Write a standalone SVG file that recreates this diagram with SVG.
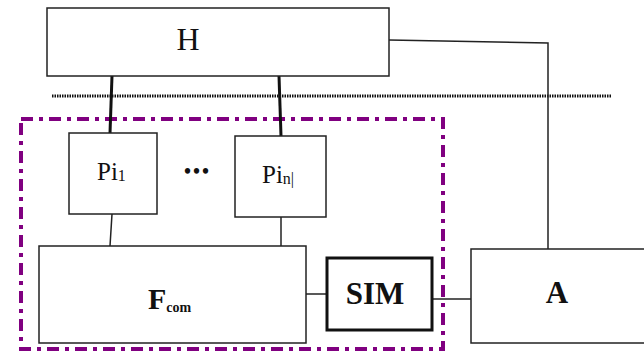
<svg xmlns="http://www.w3.org/2000/svg" width="644" height="352" viewBox="0 0 644 352">
<style>
.box{fill:#fff;stroke:#222;stroke-width:1.5}
.t{font-family:"Liberation Serif","Times New Roman",serif;fill:#111}
.c{stroke:#222;stroke-width:1.5;fill:none}
.thick{stroke:#111;stroke-width:3;fill:none}
</style>
<rect width="644" height="352" fill="#fff"/>
<g id="boundary">
<rect x="21" y="119" width="422" height="230" fill="none" stroke="#800080" stroke-width="4" stroke-dasharray="12 6 4 6"/>
</g>
<line x1="52" y1="96" x2="612" y2="96" stroke="#111" stroke-width="3" stroke-dasharray="1.5 1"/>
<g id="connectors">
<line class="thick" x1="112" y1="76" x2="110" y2="133"/>
<line class="thick" x1="279" y1="76" x2="281" y2="136"/>
<line class="c" x1="112" y1="214" x2="110" y2="246"/>
<line class="c" x1="281" y1="217" x2="281" y2="246"/>
<line class="c" x1="306" y1="294" x2="327" y2="294"/>
<line class="c" x1="426" y1="299" x2="471" y2="299"/>
<polyline class="c" points="389,40 548,43 548,249"/>
</g>
<g id="H">
<rect class="box" x="47" y="8" width="342" height="68"/>
<text class="t" x="188" y="50" font-size="32" text-anchor="middle">H</text>
</g>
<g id="Pi1">
<rect class="box" x="69" y="133" width="88" height="81"/>
<text class="t" x="97" y="180" font-size="25">Pi<tspan font-size="16" dy="1">1</tspan></text>
</g>
<g id="dots">
<text class="t" x="184" y="178" font-size="20" font-weight="bold" letter-spacing="2">•••</text>
</g>
<g id="Pin">
<rect class="box" x="235" y="136" width="91" height="81"/>
<text class="t" x="262" y="183" font-size="25">Pi<tspan font-size="16" dy="1">n|</tspan></text>
</g>
<g id="Fcom">
<rect class="box" x="39" y="246" width="267" height="97"/>
<text class="t" x="148" y="309" font-size="30" font-weight="bold">F<tspan font-size="14" dy="3">com</tspan></text>
</g>
<g id="SIM">
<rect x="327" y="258" width="105" height="72" fill="#fff" stroke="#111" stroke-width="3"/>
<text class="t" x="375" y="304" font-size="31" font-weight="bold" text-anchor="middle">SIM</text>
</g>
<g id="A">
<rect class="box" x="471" y="249" width="180" height="94"/>
<text class="t" x="557" y="303" font-size="31" font-weight="bold" text-anchor="middle">A</text>
</g>
</svg>
